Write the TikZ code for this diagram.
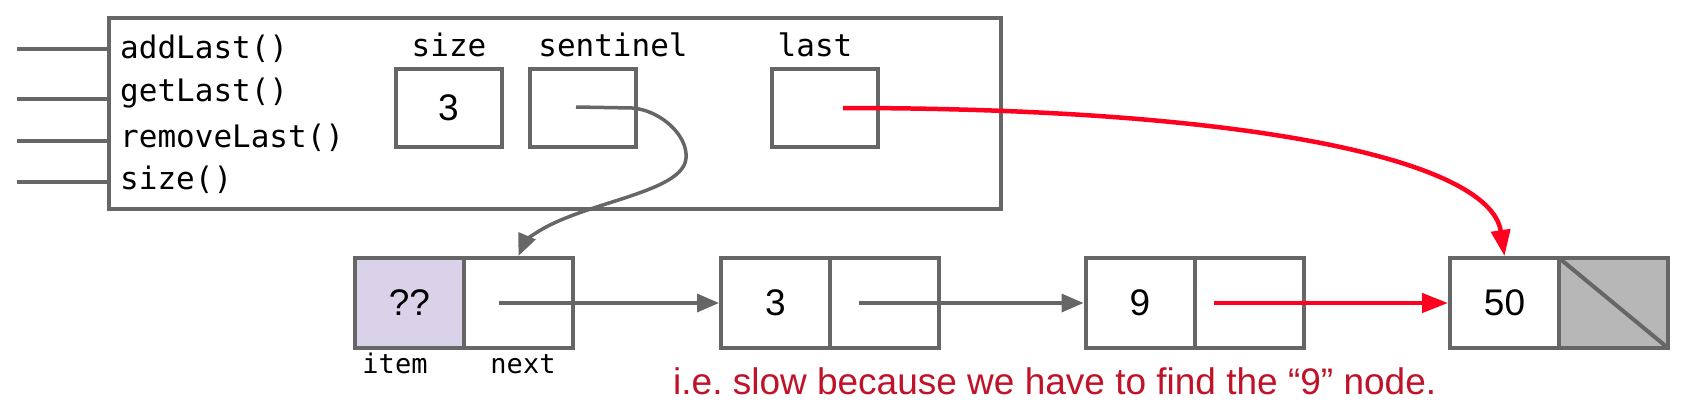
\documentclass[tikz,border=0pt]{standalone}
\usepackage{fontspec}
\setmainfont{Liberation Sans}
\newfontfamily\monofont{DejaVu Sans Mono}
\usetikzlibrary{arrows.meta}
\definecolor{lgray}{RGB}{102,102,102}
\definecolor{lpurple}{RGB}{217,210,233}
\definecolor{dgfill}{RGB}{183,183,183}
\definecolor{ptred}{RGB}{255,0,30}
\definecolor{txtred}{RGB}{192,18,40}
\begin{document}
\begin{tikzpicture}[x=1pt,y=-1pt,
 cell/.style={draw=lgray, line width=4pt, minimum width=109pt, minimum height=90pt, inner sep=0pt, font=\fontsize{37}{40}\selectfont},
 field/.style={draw=lgray, line width=4pt, minimum width=106pt, minimum height=78pt, inner sep=0pt, font=\fontsize{37}{40}\selectfont},
 meth/.style={anchor=base west, inner sep=0pt, font=\monofont\fontsize{31}{34}\selectfont},
 lbl/.style={anchor=base, inner sep=0pt, font=\monofont\fontsize{31}{34}\selectfont},
 smalllbl/.style={anchor=base, inner sep=0pt, font=\monofont\fontsize{27}{30}\selectfont},
 gptr/.style={draw=lgray, line width=3.5pt, -{Triangle[length=22pt,width=18pt]}},
 rptr/.style={draw=ptred, line width=4.5pt, -{Triangle[length=26pt,width=19pt]}},
 stub/.style={draw=lgray, line width=4pt},
]
\useasboundingbox (0,0) rectangle (1682,404);

% object box
\node[draw=lgray, line width=4pt, minimum width=892pt, minimum height=191pt, inner sep=0pt] (obj) at (555,113.5) {};

% method stubs
\foreach \y/\nm in {49/s1,99/s2,141/s3,182/s4}{
  \coordinate (\nm) at (17,\y);
  \draw[stub] (\nm) -- (\nm -| obj.west);
}
\node[meth] (m1) at (120,59) {addLast()};
\node[meth] (m2) at (120,101) {getLast()};
\node[meth] (m3) at (120,147) {removeLast()};
\node[meth] (m4) at (120,189) {size()};

% fields
\node[field] (fsize) at (448.5,108) {3};
\node[field] (fsent) at (583,108) {};
\node[field] (flast) at (825,108) {};
\node[lbl] (lsize) at (449,57) {size};
\node[lbl] (lsent) at (613,57) {sentinel};
\node[lbl] (llast) at (815,57) {last};

% list nodes
\node[cell, fill=lpurple] (n1i) at (409.5,303) {??};
\node[cell] (n1n) at (518.5,303) {};
\node[cell] (n2i) at (775.5,303) {3};
\node[cell] (n2n) at (884.5,303) {};
\node[cell] (n3i) at (1140,303) {9};
\node[cell] (n3n) at (1249,303) {};
\node[cell] (n4i) at (1504.5,303) {50};
\node[cell, fill=dgfill] (n4n) at (1613.5,303) {};
\draw[lgray, line width=4pt] ([shift={(2pt,-2pt)}]n4n.north west) -- ([shift={(-2pt,2pt)}]n4n.south east);

\node[smalllbl] (litem) at (395,373) {item};
\node[smalllbl] (lnext) at (523,373) {next};

% pointers
\coordinate (p1) at (499,303);
\coordinate (p2) at (859,303);
\coordinate (p3) at (1214,303);
\coordinate (psent) at (576,107);
\coordinate (plast) at (843,108);

\draw[gptr] (p1) -- (n2i.west);
\draw[gptr] (p2) -- (n3i.west);
\draw[rptr] (p3) -- (n4i.west);

\draw[gptr] (psent) -- (632,108) .. controls (660,110) and (688,135) .. (686,158)
  .. controls (684,190) and (600,200) .. (550,225)
  .. controls (530,235) and (524,243) .. (n1n.north);

\draw[rptr] (plast) .. controls (1250,108) and (1490,160) .. (n4i.north);

\node[anchor=base west, inner sep=0pt, text=txtred, font=\fontsize{37}{40}\selectfont] (note) at (673,394) {\frenchspacing i.e. slow because we have to find the “9” node.};
\end{tikzpicture}
\end{document}
